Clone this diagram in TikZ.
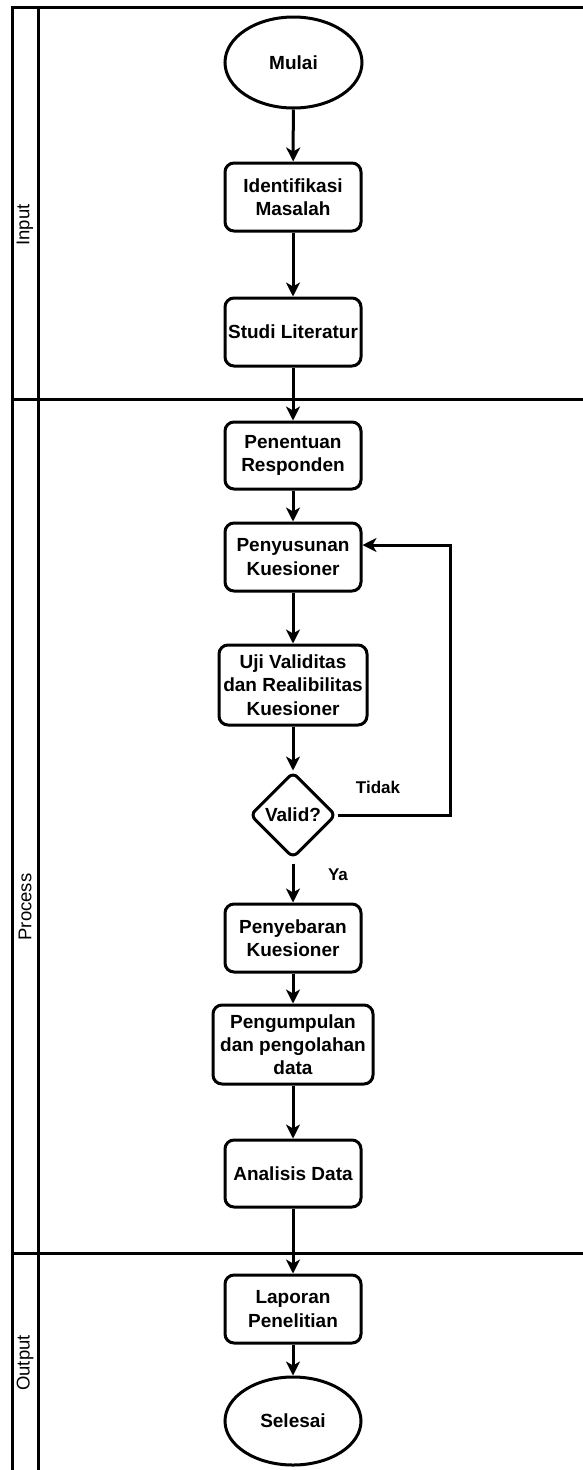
\documentclass[tikz,border=0pt]{standalone}
\usepackage{fontspec}
\setmainfont{Liberation Sans}
\usetikzlibrary{shapes.geometric,arrows.meta}
\tikzset{
  lane/.style={line width=3pt, line cap=rect},
  stepbox/.style={draw, line width=3pt, rounded corners=9pt, align=center, inner sep=1pt,
    minimum width=136pt, minimum height=68pt,
    font=\bfseries\fontsize{19}{23.3}\selectfont},
  term/.style={draw, ellipse, line width=3pt, inner sep=0pt, minimum width=137pt, minimum height=91pt,
    font=\bfseries\fontsize{19}{23.3}\selectfont},
  decide/.style={draw, diamond, line width=3pt, rounded corners=6pt, inner sep=0pt, aspect=1,
    minimum width=86pt, minimum height=86pt, font=\bfseries\fontsize{19}{23.3}\selectfont},
  flow/.style={line width=3pt, -{Stealth[length=14pt, width=14pt, inset=4pt]}},
  lanelabel/.style={rotate=90, font=\fontsize{18.5}{22}\selectfont},
  edgelabel/.style={font=\bfseries\fontsize{17}{20}\selectfont}
}
\begin{document}
\begin{tikzpicture}[x=1pt,y=-1pt]
\useasboundingbox (0,0) rectangle (583,1470);
% swimlane frame
\draw[lane] (12,1480) -- (12,7) -- (600,7);
\draw[lane] (38,7) -- (38,1480);
\draw[lane] (12,399) -- (600,399);
\draw[lane] (12,1253) -- (600,1253);
\node[lanelabel] (linput) at (25,225) {Input};
\node[lanelabel] (lprocess) at (25,907) {Process};
\node[lanelabel] (loutput) at (25,1363) {Output};
% nodes
\node[term] (mulai) at (293.5,62.5) {Mulai};
\node[stepbox] (ident) at (293,197) {Identifikasi\\Masalah};
\node[stepbox] (studi) at (293,332) {Studi Literatur};
\node[stepbox, minimum height=67pt] (tentu) at (293,455.5) {Penentuan\\Responden};
\node[stepbox] (susun) at (293,557) {Penyusunan\\Kuesioner};
\node[stepbox, minimum width=148pt, minimum height=80pt] (uji) at (293,685) {Uji Validitas\\dan Realibilitas\\Kuesioner};
\node[decide] (valid) at (293,815) {Valid?};
\node[stepbox] (sebar) at (293,938) {Penyebaran\\Kuesioner};
\node[stepbox, minimum width=160pt, minimum height=79pt] (kumpul) at (293,1044.5) {Pengumpulan\\dan pengolahan\\data};
\node[stepbox, minimum height=67pt] (analisis) at (293,1173.5) {Analisis Data};
\node[stepbox] (lapor) at (293,1309) {Laporan\\Penelitian};
\node[term, minimum width=136pt, minimum height=88pt] (selesai) at (293,1421) {Selesai};
% connectors
\draw[flow] (mulai) -- (ident);
\draw[flow] (ident) -- (studi);
\draw[flow] (studi) -- (tentu);
\draw[flow] (tentu) -- (susun);
\draw[flow] (susun) -- (uji);
\draw[flow] (uji) -- (valid);
\draw[flow] ([yshift=-4pt]valid.south) -- (sebar);
\draw[flow] (sebar) -- (kumpul);
\draw[flow] (kumpul) -- (analisis);
\draw[flow] (analisis) -- (lapor);
\draw[flow] (lapor) -- (selesai);
\coordinate (loop) at (450,545);
\draw[flow] (valid.east) -| (loop) -- (susun.east |- loop);
\node[edgelabel] (tidak) at (378,787) {Tidak};
\node[edgelabel] (ya) at (338,875) {Ya};
\end{tikzpicture}
\end{document}
